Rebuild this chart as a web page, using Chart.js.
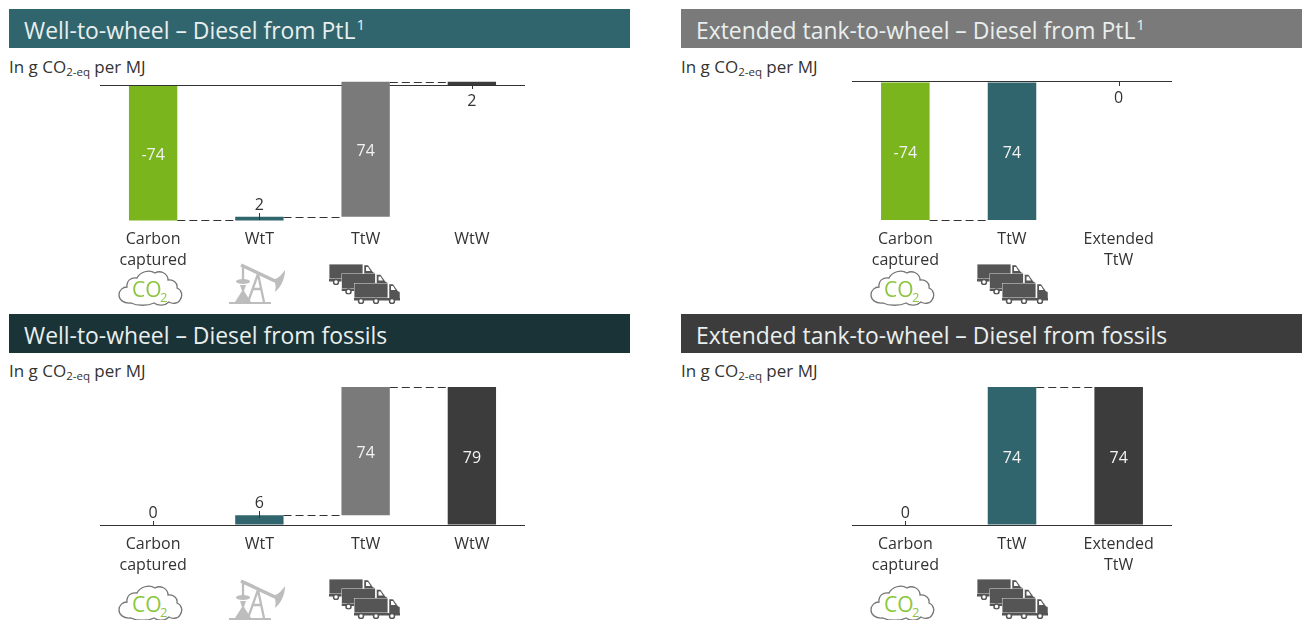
<!DOCTYPE html>
<html>
<head>
<meta charset="utf-8">
<script src="https://cdn.jsdelivr.net/npm/chart.js@4/dist/chart.umd.min.js"></script>
<style>
  html, body { margin: 0; padding: 0; background: #fff; }
  body { position: relative; width: 1302px; height: 620px; overflow: hidden; font-family: "Open Sans", sans-serif; color: #333; }
  .banner { position: absolute; height: 39px; line-height: 43px; color: #e9efef; font-size: 22.9px; padding-left: 15px; box-sizing: border-box; white-space: nowrap; }
  .banner sup { font-size: 15px; line-height: 0; vertical-align: 9px; margin-left: 1px; }
  .unit { position: absolute; font-size: 17px; line-height: 20px; white-space: nowrap; }
  .unit sub { font-size: 11.5px; line-height: 0; vertical-align: -3px; }
  canvas { position: absolute; }
  svg.icon { position: absolute; overflow: visible; }
</style>
</head>
<body>

<svg width="0" height="0" style="position:absolute">
  <defs>
    <symbol id="cloud" viewBox="0 0 65 37">
      <path d="M13 34 C5 35 1 30 1 26 C1 21 5 18 9 18 C8 12 13 8 19 9 C22 3 31 0 37 4 C42 1 50 4 50 11 C55 10 60 14 59 19 C64 21 65 27 62 31 C60 35 54 35 51 33 C47 37 40 37 36 34 C30 37 19 37 13 34 Z" fill="#fff" stroke="#777" stroke-width="1.3"/>
      <text x="14" y="28" font-family="Open Sans" font-size="21" fill="#8cc63f">CO</text>
      <text x="42" y="33" font-family="Open Sans" font-size="13" fill="#8cc63f">2</text>
    </symbol>
    <symbol id="pump" viewBox="0 0 56 42">
      <rect x="0" y="40" width="42" height="2" fill="#bdbdbd"/>
      <path d="M12 3 L46 19" stroke="#bdbdbd" stroke-width="3.5" fill="none"/>
      <path d="M46 17 C50 16 53 12 56 8 C56 17 52 25 46 30 C47 25 47 21 44 18 Z" fill="#bdbdbd"/>
      <path d="M14 4 V18 M29 12 L19 40 M29 12 L35 40 M24 27 H32" stroke="#bdbdbd" stroke-width="2.3" fill="none"/>
      <ellipse cx="14" cy="19.5" rx="7" ry="2.5" fill="#bdbdbd"/>
      <path d="M11 23 H17 L15 29 L22 40 H6 L13 29 Z" fill="#bdbdbd"/>
    </symbol>
    <symbol id="truck" viewBox="0 0 46 21">
      <rect x="0" y="0" width="34" height="15" fill="#555" stroke="#fff" stroke-width="0.8"/>
      <path d="M35 1 H39 L44 8 L46 9 V17 H35 Z" fill="#555" stroke="#fff" stroke-width="0.5"/>
      <path d="M37 3 H39 L41.5 7 H37 Z" fill="#fff"/>
      <rect x="0" y="15" width="46" height="2.5" fill="#555"/>
      <circle cx="7" cy="18" r="2.5" fill="#fff" stroke="#555" stroke-width="1.5"/>
      <circle cx="22" cy="18" r="2.5" fill="#fff" stroke="#555" stroke-width="1.5"/>
      <circle cx="38" cy="18" r="2.5" fill="#fff" stroke="#555" stroke-width="1.5"/>
    </symbol>
    <symbol id="trucks" viewBox="0 0 71 40">
      <use href="#truck" x="0" y="0" width="46" height="21"/>
      <use href="#truck" x="12.5" y="9.5" width="46" height="21"/>
      <use href="#truck" x="25" y="19" width="46" height="21"/>
    </symbol>
  </defs>
</svg>

<script>
// categories
const catWtw = [['Carbon', 'captured'], 'WtT', 'TtW', 'WtW'];
const catExt = [['Carbon', 'captured'], 'TtW', ['Extended', 'TtW']];

// bar ranges [from, to]
const ptlWtwRanges = [[0, -74], [-74, -72], [-72, 2], [0, 2]];
const ptlExtRanges = [[0, -74], [-74, 0], [0, 0]];
const fosWtwRanges = [[0, 0], [0, 5.6], [5.6, 79], [0, 79]];
const fosExtRanges = [[0, 0], [0, 74], [0, 74]];

// printed values
const ptlWtwLabels = ['-74', '2', '74', '2'];
const ptlExtLabels = ['-74', '74', '0'];
const fosWtwLabels = ['0', '6', '74', '79'];
const fosExtLabels = ['0', '74', '74'];

// where the printed value sits
const ptlWtwPos = ['in', 'above', 'in', 'below'];
const ptlExtPos = ['in', 'in', 'below'];
const fosWtwPos = ['above', 'above', 'in', 'in'];
const fosExtPos = ['above', 'in', 'in'];

// dashed connectors [from bar, to bar, value]
const ptlWtwLinks = [[0, 1, -74], [1, 2, -72], [2, 3, 2]];
const ptlExtLinks = [[0, 1, -74]];
const fosWtwLinks = [[1, 2, 5.6], [2, 3, 79]];
const fosExtLinks = [[1, 2, 74]];

const GREEN = '#7ab51d', TEAL = '#30656e', GREY = '#7a7a7a', DARK = '#3c3c3c';
const colWtw = [GREEN, TEAL, GREY, DARK];
const colExt = [GREEN, TEAL, DARK];

const FONT = '"Open Sans", sans-serif';
const LEFT = 100, RIGHT = 852;

const addBanner = (html, x, y, w, color) => {
    const d = document.createElement('div');
    d.className = 'banner';
    d.style.cssText = `left:${x}px;top:${y}px;width:${w}px;background:${color}`;
    d.innerHTML = html;
    document.body.appendChild(d);
};

const addUnit = (x, y) => {
    const d = document.createElement('div');
    d.className = 'unit';
    d.style.cssText = `left:${x}px;top:${y}px`;
    d.innerHTML = 'In g CO<sub>2-eq</sub> per MJ';
    document.body.appendChild(d);
};

const addIcon = (id, x, y, w, h) => {
    const ns = 'http://www.w3.org/2000/svg';
    const s = document.createElementNS(ns, 'svg');
    s.setAttribute('class', 'icon');
    s.setAttribute('width', w);
    s.setAttribute('height', h);
    s.style.left = x + 'px';
    s.style.top = y + 'px';
    const u = document.createElementNS(ns, 'use');
    u.setAttribute('href', '#' + id);
    u.setAttribute('width', w);
    u.setAttribute('height', h);
    s.appendChild(u);
    document.body.appendChild(s);
};

// value labels and dashed connectors, all placed through the scales
const annotate = {
    id: 'annotate',
    afterDatasetsDraw(chart, args, opts) {
        const { ctx } = chart;
        const y = chart.scales.y;
        const bars = chart.getDatasetMeta(0).data;

        ctx.save();
        ctx.strokeStyle = '#333';
        ctx.lineWidth = 1;
        ctx.setLineDash([8, 4]);
        opts.links.forEach(([a, b, v]) => {
            const py = Math.round(y.getPixelForValue(v)) + 0.5;
            ctx.beginPath();
            ctx.moveTo(bars[a].x + bars[a].width / 2, py);
            ctx.lineTo(bars[b].x - bars[b].width / 2, py);
            ctx.stroke();
        });
        ctx.setLineDash([]);

        ctx.font = `16px ${FONT}`;
        ctx.textAlign = 'center';
        ctx.textBaseline = 'middle';
        opts.labels.forEach((txt, i) => {
            const bar = bars[i];
            const [lo, hi] = opts.ranges[i].slice().sort((p, q) => p - q);
            if (opts.pos[i] === 'in') {
                ctx.fillStyle = '#f2f2f2';
                ctx.fillText(txt, bar.x, y.getPixelForValue((lo + hi) / 2) + 2);
                return;
            }
            const above = opts.pos[i] === 'above';
            const edge = Math.round(y.getPixelForValue(above ? hi : lo));
            const px = Math.round(bar.x) + 0.5;
            ctx.strokeStyle = '#333';
            ctx.beginPath();
            ctx.moveTo(px, edge + (above && hi > lo ? 3 : 0));
            ctx.lineTo(px, edge + (above ? -4 : 4));
            ctx.stroke();
            ctx.fillStyle = '#333';
            ctx.fillText(txt, bar.x, edge + (above ? -11.5 : 16));
        });
        ctx.restore();
    }
};

const addPanel = (x, top, w, cats, ranges, labels, pos, links, colors, min, max) => {
    const c = document.createElement('canvas');
    c.style.left = x + 'px';
    c.style.top = top + 'px';
    c.width = w;
    c.height = 200;
    c.style.width = w + 'px';
    c.style.height = '200px';
    document.body.appendChild(c);

    new Chart(c, {
        type: 'bar',
        data: {
            labels: cats,
            datasets: [{ data: ranges, backgroundColor: colors, borderWidth: 0, borderSkipped: false, barPercentage: 0.455, categoryPercentage: 1 }]
        },
        options: {
            responsive: false,
            animation: false,
            layout: { padding: 0 },
            plugins: {
                legend: { display: false },
                tooltip: { enabled: false },
                annotate: { ranges, labels, pos, links }
            },
            scales: {
                x: {
                    grid: { display: false },
                    border: { display: false },
                    ticks: { color: '#333', font: { family: FONT, size: 16, lineHeight: 1.31 }, padding: -4, maxRotation: 0, autoSkip: false },
                    afterFit: (s) => { s.height = 45; }
                },
                y: {
                    min, max,
                    afterBuildTicks: (s) => { s.ticks = [{ value: 0 }]; },
                    afterFit: (s) => { s.width = 0; },
                    ticks: { display: false },
                    border: { display: false },
                    grid: { color: '#333', lineWidth: 1, drawTicks: false }
                }
            }
        },
        plugins: [annotate]
    });
};

addBanner('Well-to-wheel – Diesel from PtL<sup>1</sup>', 9, 9, 621, TEAL);
addBanner('Extended tank-to-wheel – Diesel from PtL<sup>1</sup>', 681, 9, 621, GREY);
addBanner('Well-to-wheel – Diesel from fossils', 9, 314, 621, '#193337');
addBanner('Extended tank-to-wheel – Diesel from fossils', 681, 314, 621, DARK);

addUnit(9, 57); addUnit(681, 57); addUnit(9, 361); addUnit(681, 361);

addPanel(LEFT, 70, 425, catWtw, ptlWtwRanges, ptlWtwLabels, ptlWtwPos, ptlWtwLinks, colWtw, -76.5, 8.5);
addPanel(RIGHT, 70, 320, catExt, ptlExtRanges, ptlExtLabels, ptlExtPos, ptlExtLinks, colExt, -76.7, 6.43);
addPanel(LEFT, 375, 425, catWtw, fosWtwRanges, fosWtwLabels, fosWtwPos, fosWtwLinks, colWtw, -2.86, 85.9);
addPanel(RIGHT, 375, 320, catExt, fosExtRanges, fosExtLabels, fosExtPos, fosExtLinks, colExt, -2.68, 80.4);

addIcon('cloud', 118, 269, 65, 37);
addIcon('pump', 229, 262, 56, 42);
addIcon('trucks', 329, 264, 71, 40);
addIcon('cloud', 870, 269, 65, 37);
addIcon('trucks', 977, 264, 71, 40);
addIcon('cloud', 118, 584, 65, 37);
addIcon('pump', 229, 578, 56, 42);
addIcon('trucks', 329, 579, 71, 40);
addIcon('cloud', 870, 584, 65, 37);
addIcon('trucks', 977, 579, 71, 40);
</script>
</body>
</html>
